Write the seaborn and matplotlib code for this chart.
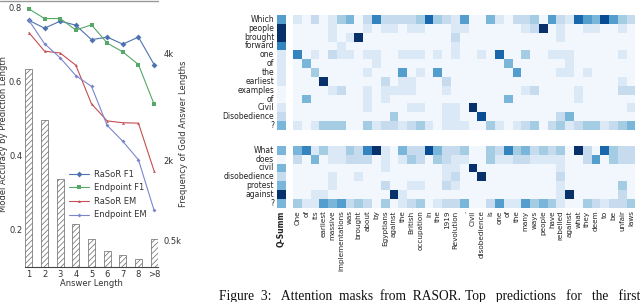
import numpy as np
import seaborn as sns
import matplotlib.pyplot as plt
from matplotlib.lines import Line2D

# ====================================================
# DATA
# ====================================================

length_labels = ["1", "2", "3", "4", "5", "6", "7", "8", ">8"]

rasor_f1 = [0.765, 0.744, 0.763, 0.752, 0.713, 0.720, 0.701, 0.720, 0.646]
endpoint_f1 = [0.796, 0.770, 0.770, 0.739, 0.753, 0.704, 0.680, 0.646, 0.539]
rasor_em = [0.732, 0.682, 0.677, 0.644, 0.540, 0.494, 0.489, 0.488, 0.359]
endpoint_em = [0.765, 0.702, 0.664, 0.616, 0.587, 0.482, 0.439, 0.389, 0.253]

gold_freq = [3700, 2750, 1640, 800, 520, 300, 220, 155, 520]

passage = ["One", "of", "its", "earliest", "massive", "implementations", "was",
           "brought", "about", "by", "Egyptians", "against", "the", "British",
           "occupation", "in", "the", "1919", "Revolution", ".", "Civil",
           "disobedience", "is", "one", "of", "the", "many", "ways", "people",
           "have", "rebelled", "against", "what", "they", "deem", "to", "be",
           "unfair", "laws"]

question_1 = ["Which", "people", "brought", "forward", "one", "of", "the",
              "earliest", "examples", "of", "Civil", "Disobedience", "?"]
question_2 = ["What", "does", "civil", "disobedience", "protest", "against", "?"]

# attention strength per cell, 0 (none) .. 9 (strongest)
q1_summ = [5, 9, 9, 6, 1, 1, 1, 1, 0, 0, 1, 2, 4]
q1_attn = [
    "1020134026" "2222373215" "0041022305" "217548532",
    "0000100010" "1101100011" "0000001290" "100110010",
    "0000101900" "0000000020" "0000000000" "100000000",
    "0000010000" "0000000010" "0000000000" "000000000",
    "6010211011" "0011101010" "0107003001" "110000010",
    "0400000001" "0000000000" "0000400000" "010000000",
    "0030000010" "0050105000" "0000050000" "110100000",
    "0009000000" "2011000200" "0000000000" "000000010",
    "0000120010" "1111000100" "0000001200" "001000022",
    "0400000010" "1000000000" "0000400000" "001000000",
    "0000000010" "0001100110" "9000000000" "000000001",
    "0000000000" "0300000110" "0800000000" "240000000",
    "1013330031" "2212310111" "0031012302" "312331234",
]

q2_summ = [4, 0, 4, 2, 4, 9, 4]
q2_attn = [
    "4613113269" "1042284223" "0032634232" "309207322",
    "2040112220" "1013203211" "0031122111" "100250322",
    "0000000000" "1000000110" "9000000000" "100000000",
    "0000100100" "0000000120" "0900000000" "200000000",
    "0000100000" "2001100210" "0000000000" "100000030",
    "0011000000" "0910000000" "0000000000" "190000020",
    "3115452320" "3012301224" "0025115343" "100321223",
]


def strength(level):
    # small floor so "empty" cells keep the pale blue of the original
    return 0.035 + 0.965 * level / 9


def to_matrix(rows):
    return np.array([[strength(int(ch)) for ch in r] for r in rows])


# ====================================================
# FIGURE
# ====================================================

sns.set_theme(style="white")
plt.rcParams["font.family"] = ["DejaVu Sans"]
plt.rcParams["hatch.linewidth"] = 0.5
plt.rcParams["hatch.color"] = "#555555"

W, H = 640, 302
fig = plt.figure(figsize=(W / 100, H / 100), dpi=100)


def box(x0, y0, x1, y1):
    return [x0 / W, 1 - y1 / H, (x1 - x0) / W, (y1 - y0) / H]


# ====================================================
# LEFT: ACCURACY vs ANSWER LENGTH
# ====================================================

ax = fig.add_axes(box(25, 0, 158, 267))
ax2 = ax.twinx()

pos = np.arange(len(length_labels))

sns.barplot(x=pos, y=gold_freq, ax=ax2, width=0.45, color="white",
            edgecolor="#666666", linewidth=0.5)
for p in ax2.patches:
    p.set_hatch("//////")
    p.set_facecolor("white")

series = [
    ("RaSoR F1", rasor_f1, "#4c72b0", "D", 3),
    ("Endpoint F1", endpoint_f1, "#55a868", "s", 3),
    ("RaSoR EM", rasor_em, "#c44e52", "^", 2),
    ("Endpoint EM", endpoint_em, "#7a86cc", "D", 2),
]
for name, vals, col, mk, ms in series:
    sns.lineplot(x=pos, y=vals, ax=ax, color=col, marker=mk, markersize=ms,
                 markeredgewidth=0, linewidth=0.8, label=name)

ax.set_zorder(2)
ax2.set_zorder(1)
ax.patch.set_visible(False)

ax.set_xlim(-0.25, 8.25)
ax.set_ylim(0.1, 0.82)
ax2.set_ylim(0, 5000)

ax.set_xticks(pos)
ax.set_xticklabels(length_labels)
ax.set_yticks([0.2, 0.4, 0.6, 0.8])
ax.set_yticklabels(["0.2", "0.4", "0.6", "0.8"])
ax2.set_yticks([500, 2000, 4000])
ax2.set_yticklabels(["0.5k", "2k", "4k"])

ax.tick_params(length=0, labelsize=6, pad=2, colors="#333333")
ax2.tick_params(length=0, labelsize=6, pad=4, colors="#333333")

ax.set_xlabel("Answer Length", fontsize=6, color="#333333")
ax.set_ylabel("Model Accuracy by Prediction Length", fontsize=6, color="#333333")
ax2.set_ylabel("Frequency of Gold Answer Lengths", fontsize=6, color="#333333")
ax2.set_xlabel("")
ax.xaxis.set_label_coords(0.5, -0.045)
ax.yaxis.set_label_coords(-0.13, 0.5)
ax2.yaxis.set_label_coords(1.16, 0.5)

for a in (ax, ax2):
    for s in ("top", "left", "right"):
        a.spines[s].set_visible(False)
ax2.spines["bottom"].set_visible(False)
ax.spines["bottom"].set_color("#444444")
ax.spines["bottom"].set_linewidth(0.8)

ax.legend(loc="upper left", bbox_to_anchor=(0.3, 0.38), frameon=False,
          fontsize=6, handlelength=2.4, borderpad=0, labelspacing=0.55,
          handletextpad=0.6, labelcolor="#333333")

fig.add_artist(Line2D([0, 158 / W], [1 - 0.6 / H] * 2, color="#999999", lw=1))

# ====================================================
# RIGHT: ATTENTION MASKS
# ====================================================

hm_kw = dict(cmap="Blues", vmin=0, vmax=1, cbar=False, linewidths=0)

cell = 8.78
q_x0, m_x0 = 277, 293
m_x1 = m_x0 + cell * len(passage)

panels = [
    (question_1, q1_summ, q1_attn, 15, 130, False),
    (question_2, q2_summ, q2_attn, 146, 207.6, True),
]

for words, summ, attn, y0, y1, bottom in panels:
    axq = fig.add_axes(box(q_x0, y0, q_x0 + cell, y1))
    axm = fig.add_axes(box(m_x0, y0, m_x1, y1))

    summ_col = np.array([[strength(v)] for v in summ])
    sns.heatmap(summ_col, ax=axq,
                xticklabels=["Q-Summ"] if bottom else False,
                yticklabels=words, **hm_kw)
    sns.heatmap(to_matrix(attn), ax=axm,
                xticklabels=passage if bottom else False,
                yticklabels=False, **hm_kw)

    axq.tick_params(length=0, labelsize=5.5, pad=2)
    axm.tick_params(length=0, labelsize=5.2, pad=2)
    plt.setp(axq.get_yticklabels(), rotation=0, ha="right", color="#222222")
    if bottom:
        plt.setp(axm.get_xticklabels(), rotation=90, color="#222222")
        plt.setp(axq.get_xticklabels(), rotation=90, fontweight="bold",
                 color="#222222")

# ====================================================
# CAPTION (justified in the paper, so the words are spread out)
# ====================================================

cap_kw = dict(family="Liberation Serif", fontsize=9.75, va="top", ha="left",
              color="#111111")
fig.text(219 / W, 1 - 289 / H,
         "Figure  3:   Attention  masks  from  RASOR.", **cap_kw)
fig.text(465 / W, 1 - 289 / H, "Top   predictions   for   the   first", **cap_kw)

fig.savefig("out.png", dpi=100)
